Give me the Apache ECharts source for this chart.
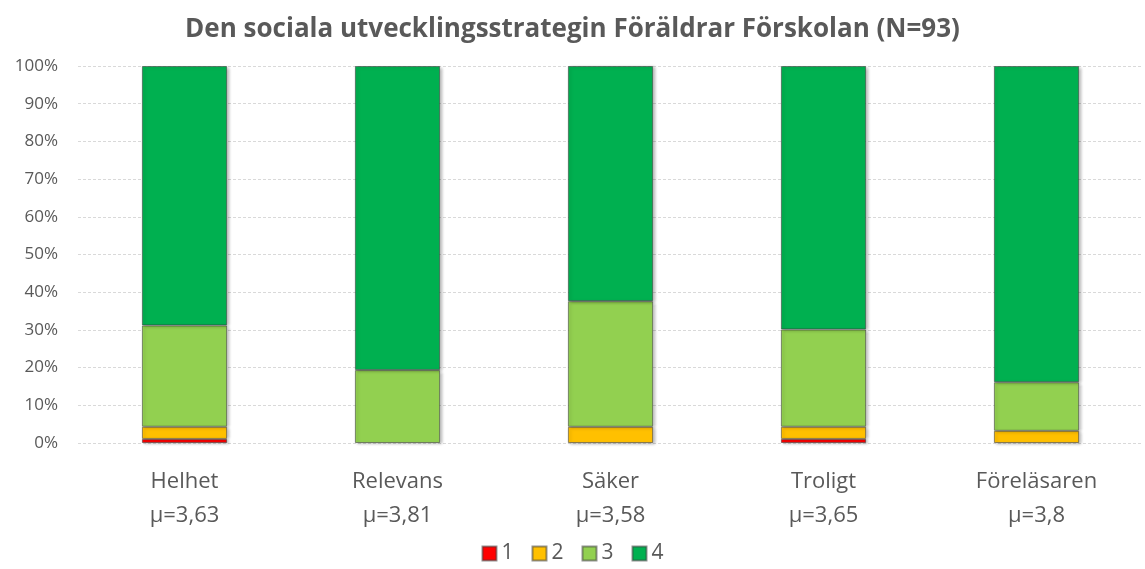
<!DOCTYPE html>
<html>
<head>
<meta charset="utf-8">
<script src="https://cdn.jsdelivr.net/npm/echarts@6/dist/echarts.min.js"></script>
<style>
  html, body { margin: 0; padding: 0; background: #fff; }
  #chart { width: 1145px; height: 569px; }
</style>
</head>
<body>
<div id="chart"></div>
<script>
// kategorier och medelvärden
const categories = ["Helhet", "Relevans", "Säker", "Troligt", "Föreläsaren"];
const means = ["3,63", "3,81", "3,58", "3,65", "3,8"];
const levels = ["1", "2", "3", "4"];
// andel svar (%) per svarsalternativ
const level1 = [1.08, 0, 0, 1.08, 0];
const level2 = [3.23, 0, 4.3, 3.23, 3.23];
const level3 = [26.88, 19.35, 33.33, 25.81, 12.9];
const level4 = [68.81, 80.65, 62.37, 69.88, 83.87];
const yTicks = [0, 10, 20, 30, 40, 50, 60, 70, 80, 90, 100];

const colors = ["#FF0000", "#FFC000", "#92D050", "#00B050"];
const values = [level1, level2, level3, level4];
const fontFam = "'Open Sans', 'Noto Sans', sans-serif";

let myChart = echarts.init(document.getElementById("chart"));
myChart.setOption({
  animation: false,
  title: {
    text: "Den sociala utvecklingsstrategin Föräldrar Förskolan (N=93)",
    left: "center",
    top: 12,
    textStyle: { fontSize: 26, fontWeight: "bold", color: "#595959", fontFamily: fontFam },
  },
  legend: {
    bottom: 0,
    left: "center",
    itemWidth: 14,
    itemHeight: 14,
    itemGap: 18,
    icon: "rect",
    textStyle: { fontSize: 21, color: "#595959", fontFamily: fontFam },
    data: levels,
  },
  grid: { left: 78, right: 2, top: 66, bottom: 126 },
  xAxis: {
    type: "category",
    data: categories.map((c, i) => c + "\nμ=" + means[i]),
    axisLine: { show: false },
    axisTick: { show: false },
    axisLabel: {
      margin: 22,
      fontSize: 22,
      lineHeight: 34,
      color: "#595959",
      fontFamily: fontFam,
    },
  },
  yAxis: {
    type: "value",
    min: yTicks[0],
    max: yTicks[yTicks.length - 1],
    interval: 10,
    axisLine: { show: false },
    axisTick: { show: false },
    axisLabel: {
      margin: 20,
      fontSize: 17,
      color: "#595959",
      fontFamily: fontFam,
      formatter: "{value}%",
    },
    splitLine: { lineStyle: { color: "#d9d9d9", type: [3, 2], width: 1 } },
  },
  series: levels.map((name, i) => ({
    name: name,
    type: "bar",
    stack: "total",
    barWidth: "40%",
    data: values[i].map(v => (v === 0 ? null : v)),
    itemStyle: {
      color: colors[i],
      borderColor: "rgba(60,60,60,0.55)",
      borderWidth: 1,
      shadowBlur: 3,
      shadowOffsetX: 2,
      shadowOffsetY: 1,
      shadowColor: "rgba(0,0,0,0.25)",
    },
  })),
});
</script>
</body>
</html>
